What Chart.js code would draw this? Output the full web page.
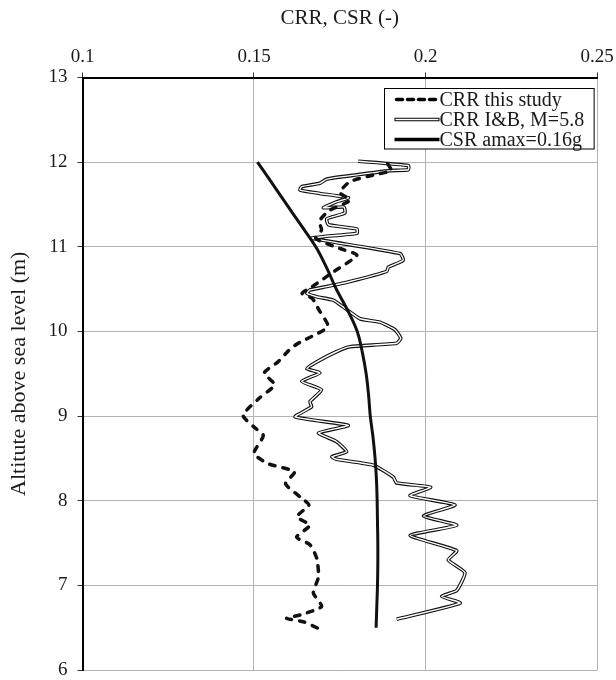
<!DOCTYPE html>
<html>
<head>
<meta charset="utf-8">
<script src="https://cdn.jsdelivr.net/npm/chart.js@4.4.1/dist/chart.umd.min.js"></script>
<style>
  html, body { margin: 0; padding: 0; background: #fff; }
  #wrap { width: 616px; height: 680px; }
</style>
</head>
<body>
<div id="wrap"><canvas id="c" width="616" height="680"></canvas></div>
<script>
// Axis ticks
const xTicks = [0.1, 0.15, 0.2, 0.25];
const xTickLabels = ['0.1', '0.15', '0.2', '0.25'];
const yTicks = [6, 7, 8, 9, 10, 11, 12, 13];

// CRR from this study (dashed)
const crrStudyX = [0.189, 0.190, 0.185, 0.178, 0.175, 0.178, 0.172, 0.169, 0.1697, 0.168,
  0.175, 0.180, 0.173, 0.167, 0.164, 0.167, 0.169, 0.1715, 0.1705, 0.1625,
  0.160, 0.157, 0.153, 0.156, 0.1515, 0.1468, 0.150, 0.1527, 0.150, 0.154,
  0.1618, 0.1592, 0.1636, 0.166, 0.1625, 0.1663, 0.1624, 0.1663, 0.1683, 0.1688,
  0.1673, 0.1697, 0.1634, 0.1595, 0.1644, 0.1688];
const crrStudyY = [11.98, 11.90, 11.85, 11.77, 11.64, 11.55, 11.43, 11.30, 11.20, 11.10,
  10.98, 10.90, 10.70, 10.53, 10.45, 10.39, 10.25, 10.08, 10.02, 9.85,
  9.77, 9.64, 9.51, 9.37, 9.21, 9.01, 8.87, 8.77, 8.56, 8.44,
  8.34, 8.20, 8.04, 7.95, 7.81, 7.71, 7.57, 7.48, 7.32, 7.10,
  6.91, 6.75, 6.65, 6.61, 6.57, 6.49];

// CRR after Idriss & Boulanger, M = 5.8 (double line)
const crrIBX = [0.1804, 0.195, 0.1950, 0.1896, 0.180, 0.1712, 0.1692, 0.1639, 0.1634, 0.1692,
  0.1775, 0.174, 0.1702, 0.1762, 0.1765, 0.1712, 0.1717, 0.180, 0.180, 0.1702,
  0.1668, 0.1926, 0.1935, 0.1892, 0.1887, 0.178, 0.1712, 0.1663, 0.1654, 0.1683,
  0.1731, 0.176, 0.1809, 0.1867, 0.1911, 0.1928, 0.1916, 0.178, 0.174, 0.1683,
  0.1654, 0.1692, 0.1639, 0.1697, 0.1663, 0.1668, 0.162, 0.1775, 0.1688, 0.174,
  0.177, 0.1727, 0.174, 0.1848, 0.1906, 0.1916, 0.2015, 0.1955, 0.2086, 0.1994,
  0.2091, 0.1955, 0.2091, 0.2066, 0.2115, 0.2091, 0.2047, 0.2101, 0.1916];
const crrIBY = [12.01, 11.96, 11.91, 11.90, 11.85, 11.80, 11.75, 11.71, 11.67, 11.63,
  11.58, 11.53, 11.46, 11.47, 11.40, 11.33, 11.26, 11.21, 11.16, 11.12,
  11.10, 10.92, 10.84, 10.76, 10.71, 10.59, 10.53, 10.49, 10.45, 10.41,
  10.37, 10.29, 10.15, 10.11, 10.02, 9.92, 9.86, 9.82, 9.76, 9.64,
  9.56, 9.51, 9.41, 9.31, 9.17, 9.11, 8.99, 8.89, 8.80, 8.70,
  8.58, 8.52, 8.49, 8.42, 8.28, 8.21, 8.16, 8.06, 7.95, 7.82,
  7.71, 7.59, 7.41, 7.30, 7.15, 6.94, 6.87, 6.79, 6.60];

// CSR for amax = 0.16g
const csrX = [0.1510, 0.1553, 0.1595, 0.1638, 0.1680, 0.1712, 0.1740, 0.1773, 0.1801, 0.1816,
  0.1827, 0.1834, 0.1839, 0.1847, 0.1853, 0.1857, 0.1859, 0.1860, 0.1861, 0.1861,
  0.1860, 0.1858, 0.1856];
const csrY = [12.0, 11.75, 11.5, 11.25, 11.0, 10.75, 10.5, 10.25, 10.0, 9.75,
  9.5, 9.25, 9.0, 8.75, 8.5, 8.25, 8.0, 7.75, 7.5, 7.25,
  7.0, 6.75, 6.5];

const seriesLabels = ['CRR this study', 'CRR I&B, M=5.8', 'CSR amax=0.16g'];

const toPoints = (xs, ys) => xs.map((x, i) => ({ x: x, y: ys[i] }));

const FONT = 'Liberation Serif, Times New Roman, serif';
const TEXT = '#1a1a1a';

// Legend drawn as a framed box in the upper right of the plot
const boxLegend = {
  id: 'boxLegend',
  afterDraw(chart) {
    const { ctx, chartArea } = chart;
    const items = chart.options.plugins.boxLegend.items;
    ctx.save();
    ctx.font = '20px ' + FONT;
    const lineLen = 45, padL = 10, padR = 10, rowH = 20;
    let maxW = 0;
    items.forEach(it => { maxW = Math.max(maxW, ctx.measureText(it.label).width); });
    const w = padL + lineLen + maxW + padR;
    const h = rowH * items.length + 0.5;
    const right = chartArea.right - 3;
    const left = Math.round(right - w) + 0.5;
    const top = Math.round(chartArea.top + 10) + 0.5;
    ctx.fillStyle = '#fff';
    ctx.fillRect(left, top, w, h);
    ctx.strokeStyle = '#000';
    ctx.lineWidth = 1;
    ctx.strokeRect(left, top, w, h);
    items.forEach((it, i) => {
      const cy = top + 11 + i * rowH;
      const x0 = left + padL, x1 = x0 + lineLen;
      ctx.setLineDash(it.dash || []);
      ctx.lineCap = it.dash ? 'round' : 'butt';
      ctx.strokeStyle = '#000';
      ctx.lineWidth = it.width;
      ctx.beginPath(); ctx.moveTo(x0 + (it.dash ? 2 : 0), cy); ctx.lineTo(x1, cy); ctx.stroke();
      if (it.inner) {
        ctx.setLineDash([]);
        ctx.strokeStyle = '#fff';
        ctx.lineWidth = it.inner;
        ctx.beginPath(); ctx.moveTo(x0 + 1, cy); ctx.lineTo(x1 - 1, cy); ctx.stroke();
      }
      ctx.setLineDash([]);
      ctx.fillStyle = TEXT;
      ctx.textAlign = 'left';
      ctx.textBaseline = 'middle';
      ctx.fillText(it.label, x1, cy + 1);
    });
    ctx.restore();
  }
};

new Chart(document.getElementById('c'), {
  type: 'scatter',
  data: {
    datasets: [
      {
        label: seriesLabels[0],
        data: toPoints(crrStudyX, crrStudyY),
        showLine: true, pointRadius: 0,
        borderColor: '#111', borderWidth: 3.5,
        borderDash: [5.5, 8], borderCapStyle: 'round', borderJoinStyle: 'round',
        tension: 0.2
      },
      {
        label: seriesLabels[2],
        data: toPoints(csrX, csrY),
        showLine: true, pointRadius: 0,
        borderColor: '#111', borderWidth: 3,
        tension: 0.4
      },
      {
        label: seriesLabels[1] + ' (inner)',
        data: toPoints(crrIBX, crrIBY),
        showLine: true, pointRadius: 0,
        borderColor: '#fff', borderWidth: 1.4,
        borderJoinStyle: 'round', tension: 0.15
      },
      {
        label: seriesLabels[1],
        data: toPoints(crrIBX, crrIBY),
        showLine: true, pointRadius: 0,
        borderColor: '#111', borderWidth: 3.6,
        borderJoinStyle: 'round', tension: 0.15
      }
    ]
  },
  options: {
    responsive: false,
    devicePixelRatio: 1,
    animation: false,
    events: [],
    layout: { padding: { left: 0, top: 0, right: 19, bottom: 10 } },
    plugins: {
      legend: { display: false },
      tooltip: { enabled: false },
      boxLegend: {
        items: [
          { label: seriesLabels[0], width: 3.5, dash: [6, 5] },
          { label: seriesLabels[1], width: 3.6, inner: 1.4 },
          { label: seriesLabels[2], width: 3.5 }
        ]
      }
    },
    scales: {
      x: {
        type: 'linear',
        position: 'top',
        min: 0.1, max: 0.25,
        afterBuildTicks: s => { s.ticks = xTicks.map(v => ({ value: v })); },
        afterFit: s => { s.height = 77.5; s.paddingLeft = 0; s.paddingRight = 0; },
        ticks: {
          font: { family: FONT, size: 19 },
          color: TEXT,
          padding: 4,
          maxRotation: 0,
          callback: (v, i) => xTickLabels[i]
        },
        grid: { color: '#b3b3b3', lineWidth: 1, tickLength: 5, tickColor: '#333' },
        border: { color: '#000', width: 2 },
        title: {
          display: true, text: 'CRR, CSR (-)',
          font: { family: FONT, size: 21 }, color: TEXT,
          padding: { top: 6, bottom: 0 }
        }
      },
      y: {
        type: 'linear',
        min: 6, max: 13,
        afterBuildTicks: s => { s.ticks = yTicks.map(v => ({ value: v })); },
        afterFit: s => { s.width = 82.5; s.paddingTop = 0; s.paddingBottom = 0; },
        ticks: {
          font: { family: FONT, size: 19 },
          color: TEXT,
          padding: 10,
          callback: v => String(v)
        },
        grid: { color: '#b3b3b3', lineWidth: 1, tickLength: 5, tickColor: '#333' },
        border: { color: '#000', width: 2 },
        title: {
          display: true, text: 'Altitute above sea level (m)',
          font: { family: FONT, size: 22 }, color: TEXT,
          padding: { top: 6, bottom: 0 }
        }
      }
    }
  },
  plugins: [boxLegend]
});
</script>
</body>
</html>
